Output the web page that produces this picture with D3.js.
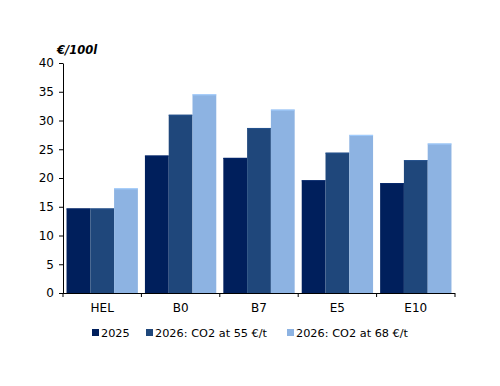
<!DOCTYPE html>
<html>
<head>
<meta charset="utf-8">
<script src="https://cdn.jsdelivr.net/npm/d3@7"></script>
<style>
  body { margin: 0; background: #fff; }
  text { font-family: "DejaVu Sans", Verdana, sans-serif; }
</style>
</head>
<body>
<script>
// data
const categories = ["HEL", "B0", "B7", "E5", "E10"];
const seriesNames = ["2025", "2026: CO2 at 55 €/t", "2026: CO2 at 68 €/t"];
const v2025 = [14.7, 23.9, 23.5, 19.6, 19.1];
const v55 = [14.7, 31.0, 28.7, 24.4, 23.1];
const v68 = [18.2, 34.55, 31.9, 27.5, 26.0];
const yTicks = [0, 5, 10, 15, 20, 25, 30, 35, 40];
const colors = ["#001f5c", "#1f477b", "#8db3e2"];

const width = 500,
  height = 386,
  plotLeft = 63,
  plotRight = 455,
  plotTop = 63,
  plotBottom = 293;

const series = [v2025, v55, v68];

const svg = d3
  .select("body")
  .append("svg")
  .attr("width", width)
  .attr("height", height);

// scales
const xScale = d3
  .scaleBand()
  .domain(categories)
  .range([plotLeft, plotRight])
  .paddingInner(0.09)
  .paddingOuter(0.045);

const xSub = d3
  .scaleBand()
  .domain(d3.range(series.length))
  .range([0, xScale.bandwidth()]);

const yScale = d3.scaleLinear().domain([0, 40]).range([plotBottom, plotTop]);

// bars
series.forEach((vals, s) => {
  svg
    .append("g")
    .selectAll("rect")
    .data(vals)
    .enter()
    .append("rect")
    .attr("x", (d, i) => xScale(categories[i]) + xSub(s))
    .attr("y", (d) => yScale(d))
    .attr("width", xSub.bandwidth())
    .attr("height", (d) => plotBottom - yScale(d))
    .attr("fill", colors[s]);
  // thin lighter top edge
  svg
    .append("g")
    .selectAll("line")
    .data(vals)
    .enter()
    .append("line")
    .attr("x1", (d, i) => xScale(categories[i]) + xSub(s))
    .attr("x2", (d, i) => xScale(categories[i]) + xSub(s) + xSub.bandwidth())
    .attr("y1", (d) => yScale(d) + 0.5)
    .attr("y2", (d) => yScale(d) + 0.5)
    .attr("stroke", d3.color(colors[s]).brighter(0.4))
    .attr("stroke-width", 1);
});

// y axis
const yAxis = d3.axisLeft(yScale).tickValues(yTicks).tickSize(4).tickSizeOuter(0);
const gy = svg
  .append("g")
  .attr("transform", "translate(" + plotLeft + ",0)")
  .call(yAxis);
gy.select(".domain").attr("stroke", "#000");
gy.selectAll("text").style("font-size", "12px").attr("fill", "#000").attr("dx", "-2");

// x axis: ticks at category boundaries
const bounds = [plotLeft].concat(
  categories.map((c) => xScale(c) + xScale.bandwidth() + (xScale.step() - xScale.bandwidth()) / 2)
);
bounds[bounds.length - 1] = plotRight;
const gx = svg.append("g");
gx.append("line")
  .attr("x1", plotLeft)
  .attr("x2", plotRight)
  .attr("y1", plotBottom + 0.5)
  .attr("y2", plotBottom + 0.5)
  .attr("stroke", "#000");
gx.selectAll(".tk")
  .data(bounds)
  .enter()
  .append("line")
  .attr("x1", (d) => d)
  .attr("x2", (d) => d)
  .attr("y1", plotBottom)
  .attr("y2", plotBottom + 4)
  .attr("stroke", "#000");
gx.selectAll(".lbl")
  .data(categories)
  .enter()
  .append("text")
  .attr("x", (d) => xScale(d) + xScale.bandwidth() / 2)
  .attr("y", plotBottom + 19)
  .attr("text-anchor", "middle")
  .style("font-size", "12px")
  .text((d) => d);

// unit label
svg
  .append("text")
  .attr("x", 57)
  .attr("y", 54)
  .style("font-size", "11.5px")
  .style("font-weight", "bold")
  .style("font-style", "italic")
  .text("€/100l");

// legend
const legendX = [92, 146, 287];
const legend = svg.append("g");
seriesNames.forEach((name, i) => {
  legend
    .append("rect")
    .attr("x", legendX[i])
    .attr("y", 329)
    .attr("width", 7)
    .attr("height", 7)
    .attr("fill", colors[i]);
  legend
    .append("text")
    .attr("x", legendX[i] + 9)
    .attr("y", 337)
    .style("font-size", "11.3px")
    .text(name);
});
</script>
</body>
</html>
